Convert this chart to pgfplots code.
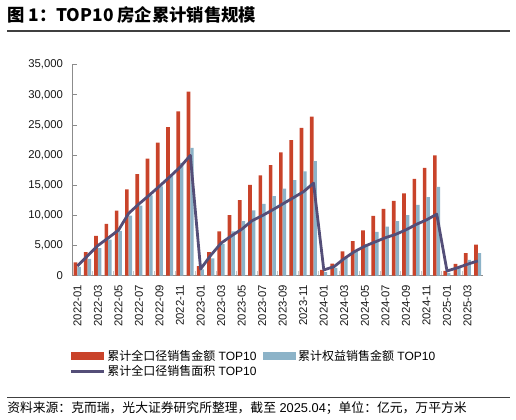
\documentclass[border=0pt]{standalone}
\usepackage{pgfplots}
\pgfplotsset{compat=1.18}
\usepackage{pgfplotstable}
\usepackage{fontspec}
\setmainfont{Liberation Sans}
\newfontfamily\cjk{Noto Sans CJK SC}

\definecolor{totred}{HTML}{C9432A}
\definecolor{eqblue}{HTML}{8CB3C8}
\definecolor{arealine}{HTML}{544E78}
\definecolor{axgray}{HTML}{8C8C8C}

% monthly cumulative values, 2022-01 .. 2025-04
\pgfplotstableread{
idx total equity area
0 2200 1450 1600
1 3900 2800 3300
2 6600 4550 5000
3 8600 6000 6250
4 10800 7450 7550
5 14300 9950 10350
6 16850 11600 11900
7 19400 13300 13350
8 22050 14800 14850
9 24650 16500 16400
10 27250 18700 18000
11 30550 21200 19950
12 1600 1050 1100
13 3900 2850 3400
14 7350 5250 5400
15 10050 7350 6600
16 12550 9050 7700
17 15050 10850 9100
18 16650 11900 9950
19 18350 13200 10900
20 20450 14450 11900
21 22500 15850 12900
22 24500 17300 13900
23 26400 19000 15350
24 950 600 950
25 2000 1300 1500
26 4050 2900 2850
27 5750 4100 4000
28 7500 5250 4900
29 9900 7250 5600
30 11100 8150 6300
31 12400 9050 6850
32 13650 10050 7600
33 16050 11750 8500
34 17900 13050 9250
35 19950 14750 10200
36 800 450 780
37 1950 1300 1300
38 3750 2600 1900
39 5150 3750 2450
}\salesdata

\begin{document}
\begin{tikzpicture}
\useasboundingbox (0pt,0pt) rectangle (387pt,314.25pt);
\node[anchor=west, inner sep=0pt] at (5.25pt,303pt)
  {\cjk\bfseries\fontsize{13}{15}\selectfont 图 1：TOP10 房企累计销售规模};
\draw[line width=1.1pt, black!75] (5.25pt,291pt) -- (382.5pt,291pt);

\begin{axis}[
  at={(54.2pt,107.5pt)}, anchor=south west,
  scale only axis, width=308pt, height=158.25pt,
  xmin=-0.5, xmax=39.5, ymin=0, ymax=35000,
  axis lines*=left,
  axis line style={axgray, line width=0.8pt},
  tick align=inside,
  tick style={axgray, line width=0.6pt},
  major tick length=3.5pt,
  ytick={0,5000,...,35000},
  scaled y ticks=false,
  /pgf/number format/.cd, 1000 sep={,}, assume math mode=true,
  /pgfplots/.cd,
  yticklabel style={inner sep=0pt, font=\fontsize{8.5}{10}\selectfont, text=black!90},
  yticklabel shift=6.75pt,
  xtick={1.5,3.5,...,37.5},
  xticklabels={},
  x tick style={axgray!50},
  extra x ticks={0,2,...,38},
  extra x tick labels={2022-01,2022-03,2022-05,2022-07,2022-09,2022-11,
    2023-01,2023-03,2023-05,2023-07,2023-09,2023-11,
    2024-01,2024-03,2024-05,2024-07,2024-09,2024-11,
    2025-01,2025-03},
  extra x tick style={major tick length=0pt,
    xticklabel style={rotate=90, anchor=east, inner sep=0pt,
      font=\fontsize{8.5}{10}\selectfont, text=black!90}},
  xticklabel shift=6.75pt,
  legend columns=2,
  legend cell align=left,
  legend style={at={(-0.017,-0.33)}, anchor=north west, draw=none, fill=none,
    font=\fontsize{9}{10}\selectfont, row sep=-0.5pt,
    nodes={inner sep=1.5pt},
    /tikz/every even column/.append style={column sep=3.5pt}},
]
\addplot[ybar, bar width=0.36, bar shift=-0.18, fill=totred, draw=none,
  legend image code/.code={\fill[totred] (0pt,-3pt) rectangle (24.75pt,3pt);}]
  table[x=idx, y=total] {\salesdata};
\addlegendentry{{\cjk 累计全口径销售金额} TOP10}
\addplot[ybar, bar width=0.33, bar shift=0.165, fill=eqblue, draw=none,
  legend image code/.code={\fill[eqblue] (0pt,-3pt) rectangle (24.75pt,3pt);}]
  table[x=idx, y=equity] {\salesdata};
\addlegendentry{{\cjk 累计权益销售金额} TOP10}
\addplot[arealine, line width=2.1pt, line join=round, mark=none,
  legend image code/.code={\draw[arealine, line width=2.1pt] (0pt,0pt) -- (24.75pt,0pt);}]
  table[x=idx, y=area] {\salesdata};
\addlegendentry{{\cjk 累计全口径销售面积} TOP10}
\end{axis}

\draw[line width=1.1pt, black!75] (5.25pt,16.1pt) -- (382.5pt,16.1pt);
\node[anchor=west, inner sep=0pt] at (5.25pt,8.5pt)
  {\fontsize{9.6}{11}\selectfont{\cjk 资料来源：克而瑞，光大证券研究所整理，截至} 2025.04{\cjk ；单位：亿元，万平方米}};
\end{tikzpicture}
\end{document}
